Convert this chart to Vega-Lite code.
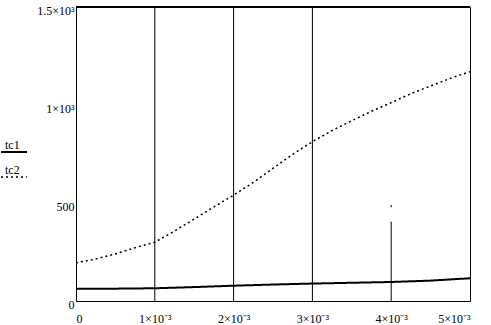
{
  "$schema": "https://vega.github.io/schema/vega-lite/v6.json",
  "width": 394,
  "height": 294,
  "autosize": "none",
  "padding": {"left": 76, "top": 7, "right": 21, "bottom": 24},
  "background": "white",
  "config": {
    "font": "Liberation Serif",
    "view": {"stroke": "black", "strokeWidth": 1},
    "axis": {"labelFont": "Liberation Serif", "labelFontSize": 12, "labelColor": "black", "grid": false, "ticks": false, "domain": false, "title": null},
    "legend": {"labelFont": "Liberation Serif", "labelFontSize": 12, "labelColor": "black"}
  },
  "layer": [
    {
      "data": {"values": [
        {"x": 0.001, "y0": 0, "y1": 1500},
        {"x": 0.002, "y0": 0, "y1": 1500},
        {"x": 0.003, "y0": 0, "y1": 1500},
        {"x": 0.004, "y0": 0, "y1": 405},
        {"x": 0.004, "y0": 478, "y1": 490}
      ]},
      "mark": {"type": "rule", "color": "black", "strokeWidth": 1},
      "encoding": {
        "x": {"field": "x", "type": "quantitative", "scale": {"domain": [0, 0.005], "nice": false, "zero": false},
          "axis": {"values": [0, 0.001, 0.002, 0.003, 0.004, 0.005], "labelPadding": 12, "labelBaseline": "top",
            "labelExpr": "datum.value == 0 ? '0' : round(datum.value * 1000) + '×10⁻³'"}},
        "y": {"field": "y0", "type": "quantitative", "scale": {"domain": [0, 1500], "nice": false},
          "axis": {"values": [0, 500, 1000, 1500], "labelPadding": 2, "labelOffset": 3,
            "labelExpr": "datum.value == 1500 ? '1.5×10³' : datum.value == 1000 ? '1×10³' : '' + datum.value"}},
        "y2": {"field": "y1"}
      }
    },
    {
      "data": {"values": [{"y": 1500}]},
      "mark": {"type": "rule", "color": "black", "strokeWidth": 2},
      "encoding": {"y": {"field": "y", "type": "quantitative"}}
    },
    {
      "data": {"values": [
        {"x": 0, "v": 62, "s": "tc1"},
        {"x": 0.0005, "v": 63, "s": "tc1"},
        {"x": 0.001, "v": 65, "s": "tc1"},
        {"x": 0.0015, "v": 71, "s": "tc1"},
        {"x": 0.002, "v": 78, "s": "tc1"},
        {"x": 0.0025, "v": 84, "s": "tc1"},
        {"x": 0.003, "v": 89, "s": "tc1"},
        {"x": 0.0035, "v": 93, "s": "tc1"},
        {"x": 0.004, "v": 97, "s": "tc1"},
        {"x": 0.0045, "v": 104, "s": "tc1"},
        {"x": 0.005, "v": 116, "s": "tc1"},
        {"x": 0, "v": 195, "s": "tc2"},
        {"x": 0.00025, "v": 214, "s": "tc2"},
        {"x": 0.0005, "v": 240, "s": "tc2"},
        {"x": 0.00075, "v": 272, "s": "tc2"},
        {"x": 0.001, "v": 300, "s": "tc2"},
        {"x": 0.00125, "v": 357, "s": "tc2"},
        {"x": 0.0015, "v": 418, "s": "tc2"},
        {"x": 0.00175, "v": 480, "s": "tc2"},
        {"x": 0.002, "v": 540, "s": "tc2"},
        {"x": 0.00225, "v": 605, "s": "tc2"},
        {"x": 0.0025, "v": 677, "s": "tc2"},
        {"x": 0.00275, "v": 748, "s": "tc2"},
        {"x": 0.003, "v": 813, "s": "tc2"},
        {"x": 0.00325, "v": 870, "s": "tc2"},
        {"x": 0.0035, "v": 920, "s": "tc2"},
        {"x": 0.00375, "v": 968, "s": "tc2"},
        {"x": 0.004, "v": 1012, "s": "tc2"},
        {"x": 0.00425, "v": 1058, "s": "tc2"},
        {"x": 0.0045, "v": 1097, "s": "tc2"},
        {"x": 0.00475, "v": 1136, "s": "tc2"},
        {"x": 0.005, "v": 1170, "s": "tc2"}
      ]},
      "mark": {"type": "line", "color": "black"},
      "encoding": {
        "x": {"field": "x", "type": "quantitative"},
        "y": {"field": "v", "type": "quantitative"},
        "strokeDash": {"field": "s", "type": "nominal", "scale": {"domain": ["tc1", "tc2"], "range": [[1, 0], [2, 3]]},
          "legend": {"title": null, "orient": "none", "legendX": -76, "legendY": 131, "symbolType": "stroke", "symbolSize": 676,
            "symbolStrokeColor": "black", "symbolOffset": 0, "labelOffset": -23, "labelBaseline": "bottom", "rowPadding": 7, "padding": 0}},
        "strokeWidth": {"field": "s", "type": "nominal", "scale": {"domain": ["tc1", "tc2"], "range": [2, 1.5]}, "legend": null}
      }
    }
  ]
}
